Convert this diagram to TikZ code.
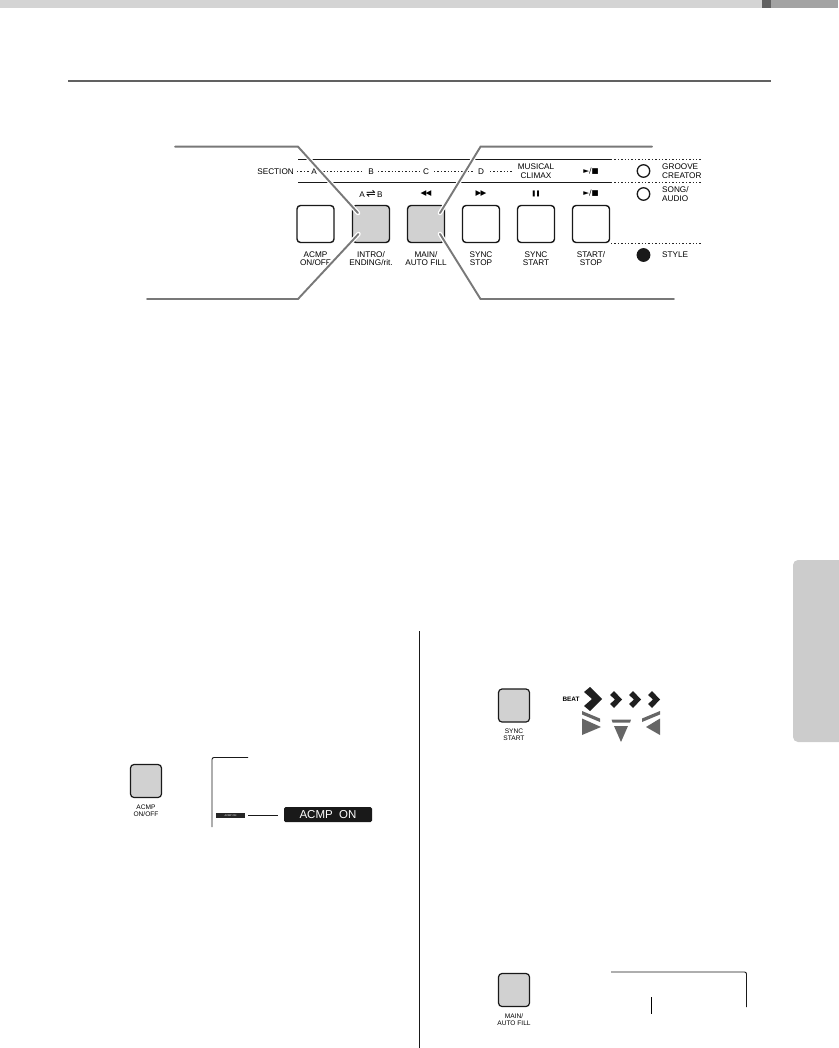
\documentclass[tikz,border=0pt]{standalone}
\usepackage{fontspec}
\setmainfont{Liberation Sans}
\newfontfamily\symfont{DejaVu Sans}
\definecolor{btn}{gray}{0.82}
\definecolor{lead}{gray}{0.47}
\tikzset{
  panelbtn/.style={draw=black!90,line width=1.4pt,rounded corners=3.5pt,minimum width=37pt,minimum height=37pt,inner sep=0pt,anchor=center},
  smallbtn/.style={draw=black!90,line width=1.2pt,rounded corners=3.5pt,inner sep=0pt},
  lbl/.style={font=\fontsize{8.2}{8.5}\selectfont,align=center,inner sep=0pt,text=black},
  sym/.style={font=\symfont\fontsize{7.5}{8}\selectfont,align=center,inner sep=0pt,text=black},
  tiny/.style={font=\fontsize{6.6}{7}\selectfont,align=center,inner sep=0pt,text=black},
  leader/.style={draw=lead,line width=1.9pt,line cap=round},
  halo/.style={draw=white,line width=4.5pt,line cap=round},
  rule/.style={draw=black!90,line width=0.8pt},
  dots/.style={draw=black!85,line width=0.7pt,dash pattern=on 1.4pt off 2pt},
  lamp/.style={circle,draw=black!90,line width=1.3pt,minimum size=12.5pt,inner sep=0pt},
  frame/.style={draw=black!90,line width=0.9pt,rounded corners=2pt}
}
\begin{document}
\begin{tikzpicture}[x=1pt,y=-1pt]
\useasboundingbox (0,0) rectangle (838,1048);
% top bar
\fill[black!17] (0,0) rectangle (762,8.5);
\fill[black!62] (762,0) rectangle (771,8.5);
\fill[black!36] (771,0) rectangle (838,8.5);
\draw[draw=black!62,line width=2.2pt] (68,81.3) -- (771,81.3);
% side tab
\fill[black!20,rounded corners=5pt] (850,560) -- (793,560) -- (793,742) -- (850,742) -- cycle;
% panel rules
\draw[rule] (298,159.5) -- (611,159.5);
\draw[rule] (298,182.5) -- (611,182.5);
\draw[dots] (611,159.5) -- (701,159.5);
\draw[dots] (611,182.5) -- (701,182.5);
\draw[dots] (611,243.5) -- (701,243.5);
\draw[dots] (297,171.5) -- (309,171.5);
\draw[dots] (320,171.5) -- (364,171.5);
\draw[dots] (378,171.5) -- (419,171.5);
\draw[dots] (434,171.5) -- (473,171.5);
\draw[dots] (490,171.5) -- (513,171.5);
% section row
\node[lbl,anchor=east] (sec) at (294,171.5) {SECTION};
\node[lbl] (sa) at (314,171.5) {A};
\node[lbl] (sb) at (371,171.5) {B};
\node[lbl] (sc) at (426,171.5) {C};
\node[lbl] (sd) at (481,171.5) {D};
\node[lbl] (mc) at (536,171.3) {MUSICAL\\CLIMAX};
\node[sym] (ps1) at (591,171.5) {►/■};
% top symbols
\node[lbl] (t1) at (371,193.5) {A\,{\symfont\fontsize{11.5}{11.5}\selectfont ⇌}\,B};
\node[sym] (t2) at (426,193.5) {◀\kern-1pt◀};
\node[sym] (t3) at (481,193.5) {▶\kern-1pt▶};
\node[sym] (t4) at (536,193.5) {\fontsize{6}{6}\selectfont ❚\kern-1pt❚};
\node[sym] (t5) at (591,193.5) {►/■};
% buttons
\node[panelbtn] (b1) at (315.5,224) {};
\node[panelbtn,fill=btn] (b2) at (371,224) {};
\node[panelbtn,fill=btn] (b3) at (426,224) {};
\node[panelbtn] (b4) at (481,224) {};
\node[panelbtn] (b5) at (536,224) {};
\node[panelbtn] (b6) at (591,224) {};
\node[lbl] (l1) at (315.5,258.5) {ACMP\\ON/OFF};
\node[lbl] (l2) at (371,258.5) {INTRO/\\ENDING/rit.};
\node[lbl] (l3) at (426,258.5) {MAIN/\\AUTO FILL};
\node[lbl] (l4) at (481,258.5) {SYNC\\STOP};
\node[lbl] (l5) at (536,258.5) {SYNC\\START};
\node[lbl] (l6) at (591,258.5) {START/\\STOP};
% lamps
\node[lamp] (g1) at (643.5,171) {};
\node[lamp] (g2) at (643.5,194) {};
\node[lamp,fill=black!90] (g3) at (643.5,255) {};
\node[lbl,anchor=west,align=left] (g1t) at (662,171) {GROOVE\\CREATOR};
\node[lbl,anchor=west,align=left] (g2t) at (662,194) {SONG/\\AUDIO};
\node[lbl,anchor=west] (g3t) at (662,254.5) {STYLE};
% leaders
\coordinate (la) at (175,146.7);
\coordinate (lb) at (147,299);
\coordinate (lc) at (652,146.7);
\coordinate (ld) at (674,299);
\coordinate (ca) at (298,146.7);
\coordinate (cb) at (298,299);
\coordinate (cc) at (480.5,146.7);
\coordinate (cd) at (480.5,299);
\coordinate (pa) at (358,213);
\coordinate (pb) at (358.5,234);
\coordinate (pc) at (440,213);
\coordinate (pd) at (440,234);
\draw[halo] (ca) -- (pa);
\draw[halo] (cb) -- (pb);
\draw[halo] (cc) -- (pc);
\draw[halo] (cd) -- (pd);
\draw[leader] (la) -- (ca) -- (pa);
\draw[leader] (lb) -- (cb) -- (pb);
\draw[leader] (lc) -- (cc) -- (pc);
\draw[leader] (ld) -- (cd) -- (pd);
% column divider
\draw[draw=black!90,line width=0.8pt] (419.5,631) -- (419.5,1048);
% left figure
\node[smallbtn,minimum width=31pt,minimum height=33pt,fill=btn] (acmp) at (146,781) {};
\node[tiny] (acmpl) at (146,810.5) {ACMP\\ON/OFF};
\draw[frame] (248,757.5) -- (212,757.5) -- (212,827);
\node[fill=black!85,minimum width=29pt,minimum height=5pt,inner sep=0pt,text=white,font=\fontsize{2.5}{3}\selectfont] (acs) at (230.5,815.5) {ACMP ON};
\node[fill=black!90,rounded corners=1.5pt,minimum width=88pt,minimum height=15pt,inner sep=0pt,text=white,font=\fontsize{11.5}{12}\selectfont] (acl) at (328,814.7) {ACMP\ \ ON};
\draw[draw=black!90,line width=0.9pt,shorten <=3pt,shorten >=5.5pt] (acs.east) -- (acl.west |- acs.east);
% right figure 1
\node[smallbtn,minimum width=31pt,minimum height=33pt,fill=btn] (sync) at (514,705.5) {};
\node[tiny] (syncl) at (514,735) {SYNC\\START};
\node[font=\bfseries\fontsize{6.4}{7}\selectfont,inner sep=0pt,text=black] (beat) at (571,699) {BEAT};
\fill[black!88] (584,692) -- (590,687) -- (602,699) -- (590,711) -- (584,706) -- (592,699) -- cycle;
\foreach \x in {610,629,648}{
  \fill[black!88] (\x,695) -- ++(4,-4) -- ++(8,8.5) -- ++(-8,8.5) -- ++(-4,-4) -- ++(5,-4.5) -- cycle;
}
\fill[black!60] (582,711) -- (600,718.5) -- (600,722) -- (582,714.5) -- cycle;
\fill[black!60] (582,718.5) -- (601,727) -- (582,735) -- cycle;
\fill[black!60] (611.5,719.5) -- (631,719.5) -- (630,722.5) -- (612.5,722.5) -- cycle;
\fill[black!60] (614,726) -- (628,726) -- (621,742) -- cycle;
\fill[black!60] (642,718.5) -- (660,711) -- (660,714.5) -- (642,722) -- cycle;
\fill[black!60] (660,718.5) -- (660,735) -- (646,727) -- cycle;
% right figure 2
\node[smallbtn,minimum width=31pt,minimum height=33pt,fill=btn] (mainb) at (514,990) {};
\node[tiny] (mainl) at (514,1019.5) {MAIN/\\AUTO FILL};
\draw[frame] (611,972) -- (746.5,972) -- (746.5,1007);
\draw[draw=black,line width=0.8pt] (651.5,997) -- (651.5,1013.5);
\end{tikzpicture}
\end{document}
